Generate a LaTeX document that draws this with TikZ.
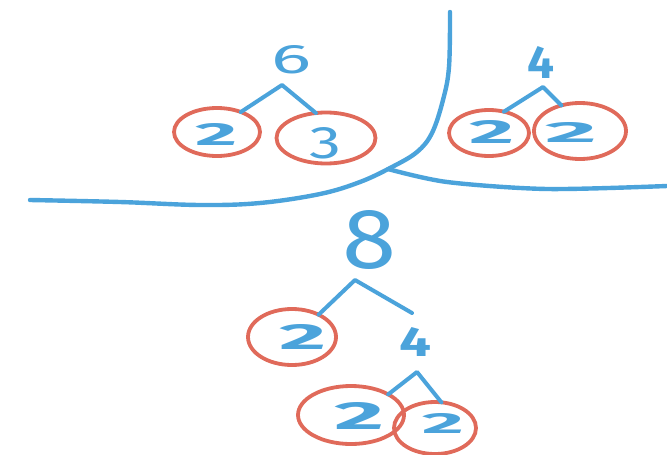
\documentclass[tikz,border=0pt]{standalone}
\usepackage{fontspec}
\setmainfont{Fira Sans}
\usepackage{graphicx}
\usetikzlibrary{shapes.geometric}
\definecolor{pen}{HTML}{4BA3DB}
\definecolor{ink}{HTML}{E06A5A}
\newcommand{\dg}[3]{\resizebox{#1pt}{#2pt}{\bfseries #3}}
\newcommand{\dgr}[3]{\resizebox{#1pt}{#2pt}{#3}}
\tikzset{
  ring/.style={ellipse, draw=ink, line width=3.8pt, inner sep=0pt, outer sep=0pt},
  digit/.style={inner sep=0pt, outer sep=0pt, text=pen},
  branch/.style={draw=pen, line width=4pt, line cap=round, line join=round},
  divider/.style={draw=pen, line width=4.4pt, line cap=round},
}
\begin{document}
\begin{tikzpicture}[x=1pt,y=-1pt]
\useasboundingbox (0,0) rectangle (667,455);

% dividing lines
\draw[divider] plot[smooth, tension=0.6] coordinates {(450,12) (449,67) (443,100) (432,133) (417,152) (392,167) (360,182) (320,194) (260,203) (200,205) (120,202) (30,200)};
\draw[divider] plot[smooth, tension=0.5] coordinates {(388,169) (447,182) (547,189) (667,186)};

% tree 6
\node[digit] (d6) at (292,60) {\dgr{40}{28}{6}};
\node[ring, minimum width=86pt, minimum height=48pt] (c1) at (217,132) {};
\node[ring, minimum width=99pt, minimum height=51pt] (c2) at (326,138) {};
\node[digit] (d1) at (217,134) {\dg{42}{22}{2}};
\node[digit] (d2) at (326,143) {\dgr{32}{31}{3}};
\coordinate (a6) at (282,85);
\draw[branch] (c1.40) -- (a6) -- (c2.112);

% tree 4 top right
\node[digit] (d4) at (541,62) {\dg{27}{32}{4}};
\node[ring, minimum width=80pt, minimum height=46pt] (c3) at (489,133) {};
\node[ring, minimum width=92pt, minimum height=56pt] (c4) at (580,131) {};
\node[digit] (d3) at (492,132) {\dg{45}{23}{2}};
\node[digit] (d4b) at (571,132) {\dg{52}{20}{2}};
\coordinate (a4) at (543,87);
\draw[branch] (c3.55) -- (a4) -- (c4.126);

% tree 8
\node[digit] (d8) at (370,240) {\dgr{54}{58}{8}};
\node[ring, minimum width=88pt, minimum height=56pt] (c5) at (292,337) {};
\node[digit] (d5) at (303,337) {\dg{47}{25}{2}};
\node[digit] (n4) at (416,342) {\dg{32}{29}{4}};
\coordinate (a8) at (355,280);
\coordinate (e8) at (412,313);
\draw[branch] (c5.40) -- (a8) -- (e8);

% tree 4 bottom
\node[ring, minimum width=106pt, minimum height=58pt] (c6) at (351,415) {};
\node[ring, minimum width=82pt, minimum height=52pt] (c7) at (435,428) {};
\node[digit] (d6b) at (360,416) {\dg{50}{27}{2}};
\node[digit] (d7) at (443,423) {\dg{42}{20}{2}};
\coordinate (a4b) at (417,372);
\draw[branch] (c6.29) -- (a4b) -- (c7.76);
\end{tikzpicture}
\end{document}
